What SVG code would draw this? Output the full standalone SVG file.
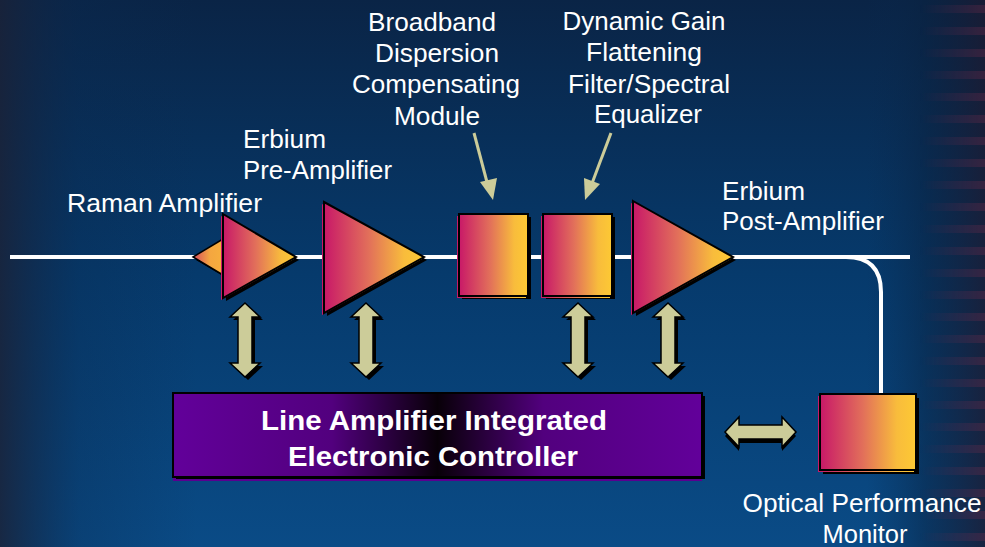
<svg xmlns="http://www.w3.org/2000/svg" width="985" height="547" viewBox="0 0 985 547">
<defs>
<linearGradient id="bg" x1="0" y1="0" x2="0" y2="1">
<stop offset="0" stop-color="#0a2446"/>
<stop offset="0.5" stop-color="#063a6c"/>
<stop offset="1" stop-color="#0a4b86"/>
</linearGradient>
<linearGradient id="bgside" x1="0" y1="0" x2="1" y2="0">
<stop offset="0" stop-color="#1a2238" stop-opacity="0.85"/>
<stop offset="0.08" stop-color="#0a2a50" stop-opacity="0.3"/>
<stop offset="0.2" stop-color="#0a2a50" stop-opacity="0"/>
<stop offset="0.88" stop-color="#0a2a50" stop-opacity="0"/>
<stop offset="0.94" stop-color="#0a2240" stop-opacity="0.5"/>
<stop offset="1" stop-color="#1c1a30" stop-opacity="0.8"/>
</linearGradient>
<linearGradient id="stripefade" x1="0" y1="0" x2="1" y2="0">
<stop offset="0" stop-color="#fff" stop-opacity="0"/>
<stop offset="1" stop-color="#fff" stop-opacity="1"/>
</linearGradient>
<mask id="fadeMask"><rect x="920" y="0" width="65" height="547" fill="url(#stripefade)"/></mask>
<linearGradient id="warm" x1="0" y1="0" x2="1" y2="0">
<stop offset="0" stop-color="#c81868"/>
<stop offset="0.45" stop-color="#e2705a"/>
<stop offset="0.8" stop-color="#f8bc3c"/>
<stop offset="1" stop-color="#fdc934"/>
</linearGradient>
<linearGradient id="warm2" x1="0" y1="0" x2="1" y2="0">
<stop offset="0" stop-color="#d84a60"/>
<stop offset="0.25" stop-color="#f4a640"/>
<stop offset="1" stop-color="#fdc934"/>
</linearGradient>
<linearGradient id="ctrl" x1="0" y1="0" x2="1" y2="0">
<stop offset="0" stop-color="#62009a"/>
<stop offset="0.3" stop-color="#52007e"/>
<stop offset="0.5" stop-color="#080008"/>
<stop offset="0.7" stop-color="#52007e"/>
<stop offset="1" stop-color="#62009a"/>
</linearGradient>
<pattern id="stripes" x="0" y="0" width="65" height="22" patternUnits="userSpaceOnUse">
<rect x="0" y="5" width="65" height="8" fill="#7a3050" opacity="0.3"/>
</pattern>
<style>
.lbl{font-family:"Liberation Sans",Arial,sans-serif;font-size:25px;fill:#ffffff}
.ctr{font-family:"Liberation Sans",Arial,sans-serif;font-size:28px;font-weight:bold;fill:#ffffff;text-anchor:middle}
.mid{text-anchor:middle}
.shape{fill:url(#warm);stroke:#000;stroke-width:2;stroke-linejoin:miter}
.edge{fill:url(#warm)}
.shadow{fill:#000}
.dbl{fill:#cccc99;stroke:#000;stroke-width:1.5;stroke-linejoin:miter}
.fiber{fill:none;stroke:#ffffff;stroke-width:4}
.ptr{fill:none;stroke:#cccc99;stroke-width:3}
.ptrh{fill:#cccc99}
</style>
</defs>

<rect width="985" height="547" fill="url(#bg)"/>
<rect width="985" height="547" fill="url(#bgside)"/>
<rect x="920" y="0" width="65" height="547" fill="url(#stripes)" mask="url(#fadeMask)"/>

<g id="connectors">
<path class="fiber" d="M10 257 H910"/>
<path class="fiber" d="M846 257 Q881 257 881 292 V395"/>
<line class="ptr" x1="474" y1="133" x2="488" y2="186"/>
<polygon class="ptrh" points="493,200 480,182 497,178"/>
<line class="ptr" x1="611" y1="133" x2="591" y2="186"/>
<polygon class="ptrh" points="585,200 584,178 600,184"/>
<g id="arrow1">
<polygon class="shadow" transform="translate(248,0)" points="0,306 15,320 7,320 7,366 15,366 0,380 -15,366 -7,366 -7,320 -15,320"/>
<polygon class="dbl" transform="translate(245,-3)" points="0,306 15,320 7,320 7,366 15,366 0,380 -15,366 -7,366 -7,320 -15,320"/>
</g>
<g id="arrow2">
<polygon class="shadow" transform="translate(369,0)" points="0,306 15,320 7,320 7,366 15,366 0,380 -15,366 -7,366 -7,320 -15,320"/>
<polygon class="dbl" transform="translate(366,-3)" points="0,306 15,320 7,320 7,366 15,366 0,380 -15,366 -7,366 -7,320 -15,320"/>
</g>
<g id="arrow3">
<polygon class="shadow" transform="translate(581,0)" points="0,306 15,320 7,320 7,366 15,366 0,380 -15,366 -7,366 -7,320 -15,320"/>
<polygon class="dbl" transform="translate(578,-3)" points="0,306 15,320 7,320 7,366 15,366 0,380 -15,366 -7,366 -7,320 -15,320"/>
</g>
<g id="arrow4">
<polygon class="shadow" transform="translate(671,0)" points="0,306 15,320 7,320 7,366 15,366 0,380 -15,366 -7,366 -7,320 -15,320"/>
<polygon class="dbl" transform="translate(668,-3)" points="0,306 15,320 7,320 7,366 15,366 0,380 -15,366 -7,366 -7,320 -15,320"/>
</g>
<g id="arrow5">
<polygon class="shadow" transform="translate(0,436)" points="725,0 739,-15 739,-7 782,-7 782,-15 796,0 782,15 782,7 739,7 739,15"/>
<polygon class="dbl" transform="translate(0,432)" points="725,0 739,-15 739,-7 782,-7 782,-15 796,0 782,15 782,7 739,7 739,15"/>
</g>
</g>

<g id="raman">
<polygon class="shadow" points="196,260 230,240 262,260 230,280"/>
<polygon points="193,257 228,236 260,257 228,278" fill="url(#warm2)" stroke="#000" stroke-width="1.5"/>
<polygon class="shadow" points="226,217 299,260 226,301"/>
<polygon class="edge" points="221,216 294,259 221,300"/>
<polygon class="shape" points="223,214 296,257 223,298"/>
<text class="lbl" x="67" y="212" textLength="195" lengthAdjust="spacingAndGlyphs">Raman Amplifier</text>
</g>

<g id="preamp">
<polygon class="shadow" points="327,205 427,260 327,316"/>
<polygon class="edge" points="322,204 422,259 322,315"/>
<polygon class="shape" points="324,202 424,257 324,313"/>
<text class="lbl" x="243" y="148" textLength="83" lengthAdjust="spacingAndGlyphs">Erbium</text>
<text class="lbl" x="243" y="179" textLength="149" lengthAdjust="spacingAndGlyphs">Pre-Amplifier</text>
</g>

<g id="dcm">
<rect class="shadow" x="462" y="217" width="69" height="82"/>
<rect class="edge" x="457" y="216" width="69" height="82"/>
<rect class="shape" x="459" y="214" width="69" height="82"/>
<text class="lbl mid" x="432" y="31" textLength="128" lengthAdjust="spacingAndGlyphs">Broadband</text>
<text class="lbl mid" x="437" y="62" textLength="124" lengthAdjust="spacingAndGlyphs">Dispersion</text>
<text class="lbl mid" x="436" y="93" textLength="168" lengthAdjust="spacingAndGlyphs">Compensating</text>
<text class="lbl mid" x="437" y="125" textLength="86" lengthAdjust="spacingAndGlyphs">Module</text>
</g>

<g id="dgef">
<rect class="shadow" x="546" y="217" width="69" height="82"/>
<rect class="edge" x="541" y="216" width="69" height="82"/>
<rect class="shape" x="543" y="214" width="69" height="82"/>
<text class="lbl mid" x="644" y="30" textLength="163" lengthAdjust="spacingAndGlyphs">Dynamic Gain</text>
<text class="lbl mid" x="644" y="61" textLength="116" lengthAdjust="spacingAndGlyphs">Flattening</text>
<text class="lbl mid" x="649" y="93" textLength="162" lengthAdjust="spacingAndGlyphs">Filter/Spectral</text>
<text class="lbl mid" x="648" y="123" textLength="108" lengthAdjust="spacingAndGlyphs">Equalizer</text>
</g>

<g id="postamp">
<polygon class="shadow" points="636,204 736,260 636,316"/>
<polygon class="edge" points="631,203 731,259 631,315"/>
<polygon class="shape" points="633,201 733,257 633,313"/>
<text class="lbl" x="722" y="200" textLength="83" lengthAdjust="spacingAndGlyphs">Erbium</text>
<text class="lbl" x="722" y="230" textLength="162" lengthAdjust="spacingAndGlyphs">Post-Amplifier</text>
</g>

<g id="controller">
<rect x="173" y="398" width="529" height="83" fill="#5a0090"/>
<rect class="shadow" x="176" y="396" width="529" height="83"/>
<rect x="173" y="393" width="529" height="84" fill="url(#ctrl)" stroke="#000" stroke-width="2"/>
<text class="ctr" x="434" y="430" textLength="346" lengthAdjust="spacingAndGlyphs">Line Amplifier Integrated</text>
<text class="ctr" x="433" y="466" textLength="290" lengthAdjust="spacingAndGlyphs">Electronic Controller</text>
</g>

<g id="opm">
<rect class="shadow" x="823" y="398" width="96" height="76"/>
<rect class="edge" x="818" y="396" width="96" height="76"/>
<rect class="shape" x="820" y="394" width="96" height="76"/>
<text class="lbl mid" x="862" y="512" textLength="239" lengthAdjust="spacingAndGlyphs">Optical Performance</text>
<text class="lbl mid" x="865" y="543" textLength="85" lengthAdjust="spacingAndGlyphs">Monitor</text>
</g>
</svg>
